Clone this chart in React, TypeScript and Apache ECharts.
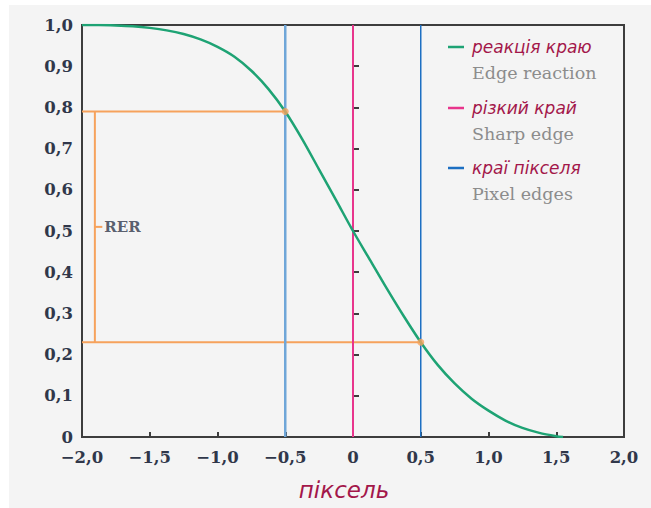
import React, { useEffect, useRef } from "react";
import * as echarts from "echarts";

// Edge reaction curve (pixel position → relative response)
const curveX = [-2.0, -1.875, -1.75, -1.625, -1.5, -1.375, -1.25, -1.125, -1.0, -0.875, -0.75, -0.625, -0.5, -0.375, -0.25, -0.125, 0.0, 0.125, 0.25, 0.375, 0.5, 0.625, 0.75, 0.875, 1.0, 1.125, 1.25, 1.375, 1.5, 1.55];
const curveY = [1.0, 1.0, 0.999, 0.997, 0.993, 0.987, 0.978, 0.965, 0.947, 0.923, 0.889, 0.845, 0.79, 0.723, 0.649, 0.575, 0.5, 0.43, 0.36, 0.293, 0.23, 0.175, 0.13, 0.093, 0.064, 0.04, 0.022, 0.01, 0.002, 0.0];

const pixelEdges = [-0.5, 0.5];
const sharpEdge = 0;
const rerHigh = 0.79;
const rerLow = 0.23;
const rerMid = 0.51;
const rerBracketX = -1.905;

const legendUk = ["реакція краю", "різкий край", "краї пікселя"];
const legendEn = ["Edge reaction", "Sharp edge", "Pixel edges"];

const GREEN = "#1ea374";
const PINK = "#e8358c";
const BLUE_L = "#6fa6d8";
const BLUE_R = "#1c6fc2";
const ORANGE = "#f6a25c";
const CRIMSON = "#a3174a";

const fmt = (v: number) => {
  if (Math.abs(v) < 1e-9) return "0";
  const s = Math.abs(v).toFixed(1).replace(".", ",");
  return (v < 0 ? "−" : "") + s;
};

export default function App() {
  const ref = useRef<HTMLDivElement>(null);
  useEffect(() => {
    if (!ref.current) return;
    const chart = echarts.init(ref.current, undefined, { renderer: "svg" });
    const labelFont = { fontFamily: "DejaVu Serif", fontWeight: "bold" as const, fontSize: 16.5, color: "#30374a" };
    const legendColors = [GREEN, PINK, BLUE_R];
    const legendY = [47, 108, 168];
    const graphics: any[] = [
      { type: "rect", z: -10, silent: true, shape: { x: 9, y: 5, width: 650, height: 510 }, style: { fill: "#f4f4f4" } },
    ];
    legendUk.forEach((t, i) => {
      graphics.push({
        type: "line", z: 10,
        shape: { x1: 448, y1: legendY[i], x2: 464, y2: legendY[i] },
        style: { stroke: legendColors[i], lineWidth: 2.5 },
      });
      graphics.push({
        type: "text", z: 10, x: 472, y: legendY[i],
        style: { text: t, fill: CRIMSON, font: "italic 500 17px 'DejaVu Sans'", textVerticalAlign: "middle" },
      });
      graphics.push({
        type: "text", z: 10, x: 472, y: legendY[i] + 26,
        style: { text: legendEn[i], fill: "#8c8c8c", font: "17.5px 'DejaVu Serif'", textVerticalAlign: "middle" },
      });
    });
    graphics.push({
      type: "text", z: 10, x: 344, y: 490,
      style: { text: "піксель", fill: CRIMSON, font: "italic 23px 'DejaVu Sans'", textAlign: "center", textVerticalAlign: "middle" },
    });

    const vline = (x: number, color: string, w: number) => ({
      type: "line", data: [[x, 0], [x, 1]], symbol: "none", silent: true,
      lineStyle: { color, width: w }, z: 3,
    });
    const oline = (pts: number[][]) => ({
      type: "line", data: pts, symbol: "none", silent: true,
      lineStyle: { color: ORANGE, width: 2 }, z: 2,
    });

    chart.setOption({
      animation: false,
      grid: { left: 82, right: 27, top: 25, bottom: 71, show: true, borderColor: "#3d3d3d", borderWidth: 2, backgroundColor: "transparent" },
      graphic: graphics,
      xAxis: {
        type: "value", min: -2, max: 2, interval: 0.5,
        axisLine: { show: false },
        axisTick: { show: true, inside: true, length: 5, lineStyle: { color: "#3d3d3d", width: 2 } },
        splitLine: { show: false },
        axisLabel: { ...labelFont, margin: 12, formatter: (v: number) => fmt(v) },
      },
      yAxis: {
        type: "value", min: 0, max: 1, interval: 0.1,
        axisLine: { show: false },
        axisTick: { show: true, inside: true, length: 6, lineStyle: { color: "#3d3d3d", width: 2 } },
        splitLine: { show: false },
        axisLabel: { ...labelFont, margin: 9, formatter: (v: number) => fmt(v) },
      },
      series: [
        oline([[-2, rerHigh], [pixelEdges[0], rerHigh]]),
        oline([[-2, rerLow], [pixelEdges[1], rerLow]]),
        oline([[rerBracketX, rerLow], [rerBracketX, rerHigh]]),
        oline([[rerBracketX, rerMid], [rerBracketX + 0.055, rerMid]]),
        vline(pixelEdges[0], BLUE_L, 2.5),
        vline(sharpEdge, PINK, 2),
        vline(pixelEdges[1], BLUE_R, 1.5),
        {
          type: "line", smooth: 0.3, symbol: "none", silent: true, z: 4,
          data: curveX.map((x, i) => [x, curveY[i]]),
          lineStyle: { color: GREEN, width: 2.5 },
        },
        {
          type: "scatter", z: 5, silent: true, symbolSize: 7,
          itemStyle: { color: ORANGE },
          data: [[pixelEdges[0], rerHigh], [pixelEdges[1], rerLow]],
        },
        {
          type: "scatter", z: 5, silent: true, symbolSize: 0,
          data: [[rerBracketX + 0.055, rerMid]],
          label: {
            show: true, position: "right", distance: 2, formatter: "RER",
            fontFamily: "DejaVu Serif", fontWeight: "bold", fontSize: 15, color: "#30374a",
          },
        },
      ],
    });
    return () => chart.dispose();
  }, []);
  return <div ref={ref} style={{ position: "absolute", left: 0, top: 0, width: 651, height: 508 }} />;
}
